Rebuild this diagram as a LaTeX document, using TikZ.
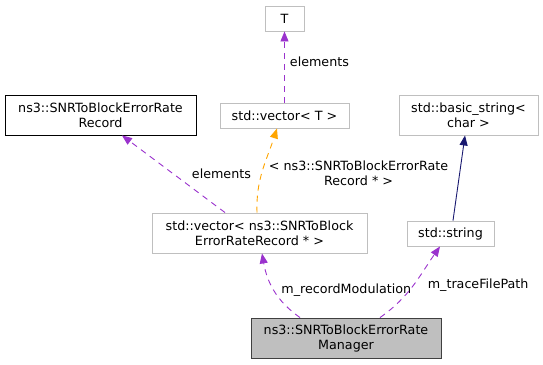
\documentclass[tikz,border=0pt]{standalone}
\usepackage{fontspec}
\setmainfont{DejaVu Sans}
\usepackage{tikz}
\usetikzlibrary{arrows.meta}
\usepackage{xcolor}
\definecolor{Orchid}{RGB}{154,50,205}
\definecolor{Tmpl}{RGB}{255,165,0}
\definecolor{Navy}{RGB}{25,25,112}
\definecolor{Frame}{RGB}{191,191,191}
\definecolor{Dark}{RGB}{64,64,64}

\begin{document}
\begin{tikzpicture}[x=1pt,y=-1pt,font=\fontsize{12.7}{15}\selectfont,
  cls/.style={draw=Frame,line width=0.9pt,fill=white,inner sep=0pt,align=center,minimum height=25pt},
  member/.style={Orchid,dash pattern=on 6pt off 5pt,line width=0.9pt,-{Triangle[length=10pt,width=8pt]}},
  tmpl/.style={Tmpl,dash pattern=on 6pt off 5pt,line width=0.9pt,-{Triangle[length=10pt,width=8pt]}},
  inherit/.style={Navy,line width=0.9pt,-{Triangle[length=10pt,width=8pt]}},
  lbl/.style={black,inner sep=2pt,align=center}]
\useasboundingbox (0,0) rectangle (543,364);
%
% classes
\node[cls,minimum width=39pt] (T) at (284.5,18.5) {T};
\node[cls,minimum width=129pt] (vecT) at (284.5,115.5) {std::vector< T >};
\node[cls,draw=black,minimum width=191pt,minimum height=40pt] (rec) at (100.5,115) {ns3::SNRToBlockErrorRate\\Record};
\node[cls,minimum width=139pt,minimum height=40pt] (bstr) at (468.5,115) {std::basic\_string<\\char >};
\node[cls,minimum width=215pt,minimum height=40pt] (vecR) at (259.5,233) {std::vector< ns3::SNRToBlock\\ErrorRateRecord * >};
\node[cls,minimum width=87pt] (str) at (450.5,233.5) {std::string};
\node[cls,draw=Dark,fill=Frame,minimum width=190pt,minimum height=40pt] (mgr) at (346,338) {ns3::SNRToBlockErrorRate\\Manager};
%
% relations
\draw[member] (vecT.north) -- (T.south) node[lbl,pos=0.57,right=3pt] {elements};
\draw[member] ([xshift=-34.5pt]vecR.north) -- ([xshift=21.5pt]rec.south) node[lbl,pos=0.5,right=16pt] {elements};
\draw[tmpl] ([xshift=-2.5pt]vecR.north) to[out=92,in=-108] node[lbl,pos=0.45,right=5pt] {< ns3::SNRToBlockErrorRate\\Record * >} ([xshift=-7.5pt]vecT.south);
\draw[inherit] ([xshift=2.5pt]str.north) -- ([xshift=-3.5pt]bstr.south);
\draw[member] ([xshift=-46pt]mgr.north) to[out=145,in=-80] node[lbl,pos=0.5,right=5pt] {m\_recordModulation} ([xshift=2.5pt]vecR.south);
\draw[member] ([xshift=34pt]mgr.north) to[out=35,in=-125] node[lbl,pos=0.5,right=12pt] {m\_traceFilePath} ([xshift=-10.5pt]str.south);
%
\end{tikzpicture}
\end{document}
